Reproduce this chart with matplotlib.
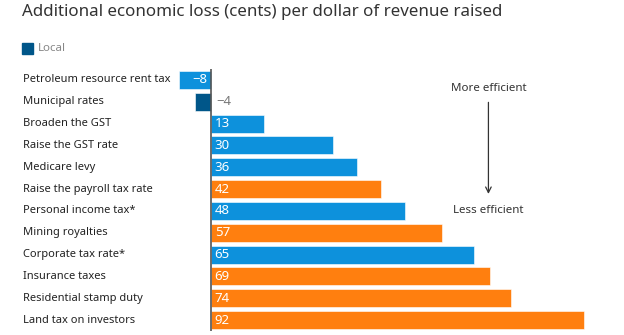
import matplotlib.pyplot as plt
from matplotlib.patches import Rectangle

plt.rcParams['font.family'] = ['Noto Sans', 'DejaVu Sans']

# data
taxes = ['Petroleum resource rent tax', 'Municipal rates', 'Broaden the GST',
         'Raise the GST rate', 'Medicare levy', 'Raise the payroll tax rate',
         'Personal income tax*', 'Mining royalties', 'Corporate tax rate*',
         'Insurance taxes', 'Residential stamp duty', 'Land tax on investors']
loss = [-8, -4, 13, 30, 36, 42, 48, 57, 65, 69, 74, 92]
level = ['federal', 'local', 'federal', 'federal', 'federal', 'state',
         'federal', 'state', 'federal', 'state', 'state', 'state']
colours = {'federal': '#0d91dc', 'local': '#005689', 'state': '#ff7f0f'}

W, H = 624, 335
fig = plt.figure(figsize=(W / 100, H / 100), dpi=100)

# axes placed in pixels: zero sits at x=211, 4.05 px per cent
left_px, right_px = 170, 612
scale = 4.05
ax = fig.add_axes([left_px / W, 1 - 331 / H, (right_px - left_px) / W, (331 - 69) / H])
ax.set_xlim(-(211 - left_px) / scale, (right_px - 211) / scale)
ax.set_ylim(len(taxes) - 0.5, -0.5)
ax.axis('off')

ypos = list(range(len(taxes)))
ax.barh(ypos, loss, height=0.82, color=[colours[l] for l in level],
        edgecolor='white', linewidth=0.4)
ax.axvline(0, color='#555555', linewidth=1.2)

lab_x = (23 - left_px) / (right_px - left_px)
for y, name, v, l in zip(ypos, taxes, loss, level):
    ax.text(lab_x, y, name, transform=ax.get_yaxis_transform(), ha='left',
            va='center', fontsize=8.0, color='#222222')
    txt = str(v).replace('-', '\u2212')
    if l == 'local':
        ax.text(1.3, y, txt, ha='left', va='center', fontsize=9.5, color='#777777')
    elif v < 0:
        ax.text(-1.0, y, txt, ha='right', va='center', fontsize=9.5, color='white')
    else:
        ax.text(0.9, y, txt, ha='left', va='center', fontsize=9.5, color='white')

# efficiency annotation
ax.text(68.5, 0.4, 'More efficient', ha='center', va='center', fontsize=8.3, color='#333333')
ax.annotate('', xy=(68.5, 5.35), xytext=(68.5, 0.9),
            arrowprops=dict(arrowstyle='->', color='#333333', lw=0.9))
ax.text(68.5, 6.0, 'Less efficient', ha='center', va='center', fontsize=8.3, color='#333333')

# title and legend
fig.text(22 / W, 1 - 12 / H, 'Additional economic loss (cents) per dollar of revenue raised',
         ha='left', va='center', fontsize=12.2, color='#333333')
fig.patches.append(Rectangle((22 / W, 1 - 54 / H), 11 / W, 11 / H,
                             transform=fig.transFigure, color=colours['local']))
fig.text(38 / W, 1 - 48.5 / H, 'Local', ha='left', va='center', fontsize=8.3, color='#888888')

fig.savefig('out.png', dpi=100)
